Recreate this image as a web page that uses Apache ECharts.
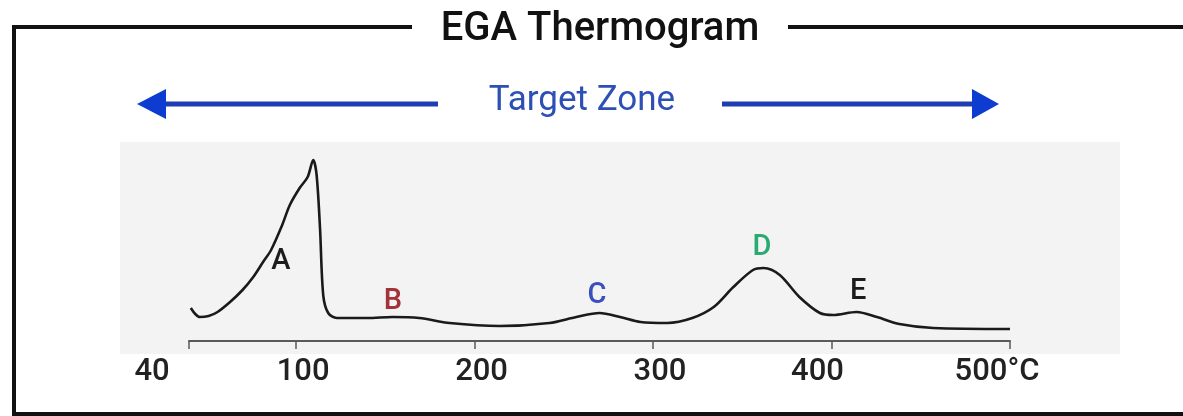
<!DOCTYPE html>
<html>
<head>
<meta charset="utf-8">
<title>EGA Thermogram</title>
<script src="https://cdn.jsdelivr.net/npm/echarts@6/dist/echarts.min.js"></script>
<style>
  html, body { margin: 0; padding: 0; background: #ffffff; }
  #chart { width: 1183px; height: 416px; }
</style>
</head>
<body>
<div id="chart"></div>
<script>
// Evolved gas signal versus furnace temperature (°C)
const temperatures = [41, 43.5, 46, 51, 56, 63, 70, 76, 81.5, 86, 92, 96.5, 102, 106.5, 109.6, 111.5, 113.4, 115.2, 118, 122.8,
  140, 154, 169, 186, 214, 242, 257, 270, 281.5, 293, 308, 322, 334, 345, 356, 362, 371, 382, 393.5, 401, 414, 425.5, 438, 457, 500];
const signal = [33, 27, 24, 25, 29, 39, 51, 64, 79, 91, 115, 136, 153, 164, 181, 166, 113, 46, 28, 23,
  23, 24, 23, 18, 15, 18, 24, 28, 24, 19, 18, 23, 34, 54, 71, 73, 66, 44, 28, 26, 29, 24, 17, 13, 12];

// Peak letters and where they sit (temperature, signal)
const peakNames = ['A', 'B', 'C', 'D', 'E'];
const peakTemps = [91.5, 154.3, 268.6, 361, 414.9];
const peakSignal = [79, 39, 45, 93, 49];

// Axis ticks and labels
const tickValues = [40, 100, 200, 300, 400, 500];
const unitSuffix = '°C';

const peakColors = ['#1c1c1c', '#a3323a', '#3a50bf', '#2aaa72', '#1c1c1c'];

const chart = echarts.init(document.getElementById('chart'), null, { renderer: 'canvas' });

const lineData = temperatures.map((t, i) => [t, signal[i]]);
const peakData = peakNames.map((n, i) => ({
  name: n,
  value: [peakTemps[i], peakSignal[i]],
  label: { color: peakColors[i] }
}));

const blue = '#1f3db3';
const arrowBlue = '#0e3bd0';
const labelRich = { fontSize: 31, fontWeight: 500, color: '#222222', fontFamily: 'Roboto' };

chart.setOption({
  animation: false,
  backgroundColor: '#ffffff',
  textStyle: { fontFamily: 'Roboto' },
  grid: { left: 189, right: 173, top: 141, bottom: 75 },
  xAxis: {
    type: 'value',
    min: 40,
    max: 500,
    splitLine: { show: false },
    axisLine: { show: true, lineStyle: { color: '#5a5a5a', width: 2 } },
    axisTick: { show: true, customValues: tickValues, length: 8, lineStyle: { color: '#5a5a5a', width: 1.5 } },
    axisLabel: {
      customValues: tickValues,
      showMinLabel: true,
      showMaxLabel: true,
      margin: 16,
      color: '#222222',
      fontSize: 31,
      fontWeight: 500,
      fontFamily: 'Roboto',
      formatter: function (v) {
        if (v === 40) return '{first|' + v + '}';
        if (v === 500) return '{late|' + v + unitSuffix + '}';
        if (v === 400) return '{late2|' + v + '}';
        return '{mid|' + v + '}';
      },
      rich: {
        first: Object.assign({ padding: [0, 74, 0, 0] }, labelRich),
        mid: Object.assign({ padding: [0, 0, 0, 14] }, labelRich),
        late2: Object.assign({ padding: [0, 28, 0, 0] }, labelRich),
        late: Object.assign({ padding: [0, 26, 0, 0] }, labelRich)
      }
    }
  },
  yAxis: {
    type: 'value',
    min: 0,
    max: 200,
    show: false
  },
  graphic: [
    // shaded plotting panel
    { type: 'rect', z: -10, shape: { x: 120, y: 142, width: 1000, height: 212 }, style: { fill: '#f3f3f3' } },
    // frame around the figure, broken by the heading
    { type: 'polyline', z: 10, shape: { points: [[412, 27], [14, 27], [14, 414], [1200, 414]] }, style: { stroke: '#111111', lineWidth: 4, fill: null } },
    { type: 'line', z: 10, shape: { x1: 788, y1: 27, x2: 1200, y2: 27 }, style: { stroke: '#111111', lineWidth: 4 } },
    { type: 'text', z: 10, x: 600, y: 30, style: { text: 'EGA Thermogram', font: '500 40px Roboto', fill: '#111111', align: 'center', verticalAlign: 'middle' } },
    // target zone arrows
    { type: 'line', z: 10, shape: { x1: 164, y1: 104, x2: 438, y2: 104 }, style: { stroke: blue, lineWidth: 5 } },
    { type: 'polygon', z: 10, shape: { points: [[137, 104], [166, 89], [166, 119]] }, style: { fill: arrowBlue } },
    { type: 'line', z: 10, shape: { x1: 722, y1: 104, x2: 974, y2: 104 }, style: { stroke: blue, lineWidth: 5 } },
    { type: 'polygon', z: 10, shape: { points: [[999, 104], [972, 89], [972, 119]] }, style: { fill: arrowBlue } },
    { type: 'text', z: 10, x: 582, y: 101, style: { text: 'Target Zone', font: '35px Roboto', fill: '#2c50b4', align: 'center', verticalAlign: 'middle' } }
  ],
  series: [
    {
      type: 'line',
      data: lineData,
      smooth: 0.3,
      showSymbol: false,
      lineStyle: { color: '#1a1a1a', width: 2.6 },
      z: 3
    },
    {
      type: 'scatter',
      data: peakData,
      symbolSize: 0,
      itemStyle: { opacity: 1 },
      label: {
        show: true,
        position: 'inside',
        formatter: '{b}',
        fontSize: 29,
        fontWeight: 500,
        fontFamily: 'Roboto'
      },
      z: 4
    }
  ]
});
</script>
</body>
</html>
